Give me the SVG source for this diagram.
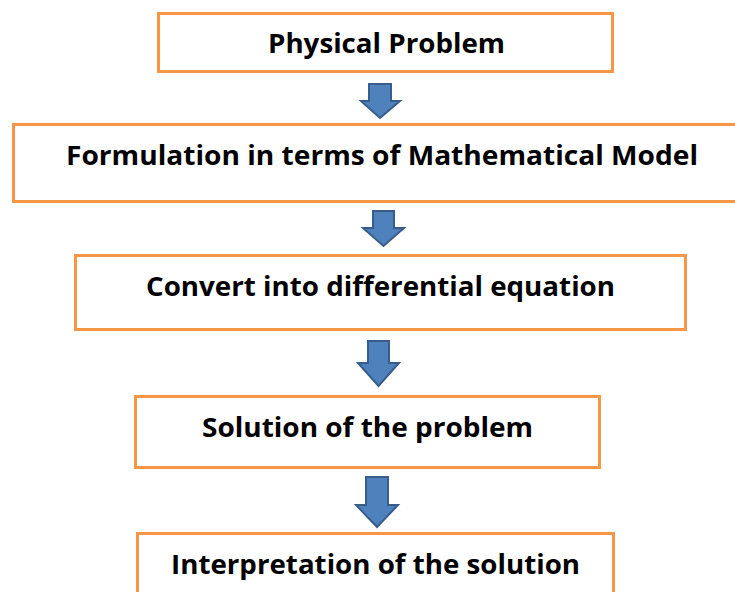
<svg xmlns="http://www.w3.org/2000/svg" width="735" height="592" viewBox="0 0 735 592">
<style>
.box{fill:#fff;stroke:#F79646;stroke-width:3}
.lbl{font-family:"Open Sans","Liberation Sans",Arial,sans-serif;font-weight:bold;font-size:26px;fill:#000}
.arr{fill:#4F81BD;stroke:#385D8A;stroke-width:2;stroke-linejoin:miter}
</style>
<rect width="735" height="592" fill="#fff"/>
<g id="n1"><rect class="box" x="158.5" y="13.5" width="454" height="58"/><text class="lbl" x="268" y="53" textLength="237" lengthAdjust="spacingAndGlyphs">Physical Problem</text></g>
<g id="n2"><rect class="box" x="13.5" y="124.5" width="730" height="77"/><text class="lbl" x="66" y="165" textLength="632" lengthAdjust="spacingAndGlyphs">Formulation in terms of Mathematical Model</text></g>
<g id="n3"><rect class="box" x="75.5" y="255.5" width="610" height="74"/><text class="lbl" x="146" y="296" textLength="469" lengthAdjust="spacingAndGlyphs">Convert into differential equation</text></g>
<g id="n4"><rect class="box" x="135.5" y="396.5" width="464" height="71"/><text class="lbl" x="202" y="437" textLength="331" lengthAdjust="spacingAndGlyphs">Solution of the problem</text></g>
<g id="n5"><rect class="box" x="137.5" y="533.5" width="476" height="70"/><text class="lbl" x="171" y="574" textLength="409" lengthAdjust="spacingAndGlyphs">Interpretation of the solution</text></g>
<g id="connectors">
<path class="arr" d="M369 84H391V101H400L380 118L361 101H369Z"/>
<path class="arr" d="M373 211H394V228H404L383.5 246L363 228H373Z"/>
<path class="arr" d="M368 341H389V363H399L378.5 386L358 363H368Z"/>
<path class="arr" d="M366 477H388V505H398L377 527L356 505H366Z"/>
</g>
</svg>
